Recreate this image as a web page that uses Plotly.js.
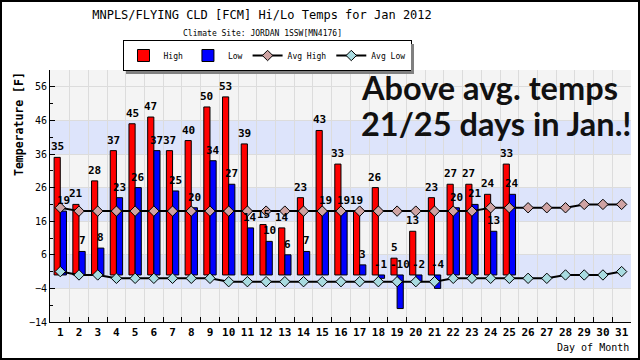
<!DOCTYPE html>
<html>
<head>
<meta charset="utf-8">
<script src="https://cdn.plot.ly/plotly-3.0.1.min.js"></script>
<style>
html,body{margin:0;padding:0;background:#fff;}
#wrap{position:relative;width:640px;height:360px;}
#chart{width:640px;height:360px;}
#frame{position:absolute;left:0;top:0;width:640px;height:360px;box-sizing:border-box;border:2px solid #000;pointer-events:none;}
.shadow{position:absolute;background:#808080;pointer-events:none;}
</style>
</head>
<body>
<div id="wrap"><div id="chart"></div><div id="frame"></div></div>
<script>
// ---- data ----
const days = [1,2,3,4,5,6,7,8,9,10,11,12,13,14,15,16,17,18,19,20,21,22,23,24,25,26,27,28,29,30,31];
const dayLabels = ["1","2","3","4","5","6","7","8","9","10","11","12","13","14","15","16","17","18","19","20","21","22","23","24","25","26","27","28","29","30","31"];
const highs = [35,21,28,37,45,47,37,40,50,53,39,15,14,23,43,33,19,26,5,13,23,27,27,24,33,null,null,null,null,null,null];
const lows  = [19,7,8,23,26,37,25,20,34,27,14,10,6,7,19,19,3,-1,-10,-2,-4,20,21,13,24,null,null,null,null,null,null];
const avgHigh = [20,19,19,19,19,19,19,19,19,19,19,19,19,19,19,19,19,19,19,19,19,19,19,20,20,20,20,20,21,21,21];
const avgLow  = [1,0,0,-1,-1,-1,-1,-1,-1,-2,-2,-2,-2,-2,-2,-2,-2,-2,-2,-2,-2,-1,-1,-1,-1,-1,-1,0,0,0,1];
const yTicks = [-14,-4,6,16,26,36,46,56];
const minorX = [1.5,2.5,3.5,4.5,5.5,6.5,7.5,8.5,9.5,10.5,11.5,12.5,13.5,14.5,15.5,16.5,17.5,18.5,19.5,20.5,21.5,22.5,23.5,24.5,25.5,26.5,27.5,28.5,29.5,30.5];
const bands = [[-4,6],[16,26],[36,46]];
const noteLines = ['Above avg. temps', '21/25 days in Jan.!'];

const mono = 'DejaVu Sans Mono, monospace';

const traces = [
  {type:'bar', name:'High', x:days, y:highs, marker:{color:'#ff0000', line:{color:'#000', width:1}}, hoverinfo:'skip'},
  {type:'bar', name:'Low', x:days, y:lows, marker:{color:'#0000ff', line:{color:'#000', width:1}}, hoverinfo:'skip'},
  {type:'scatter', mode:'lines+markers', name:'Avg High', x:days, y:avgHigh, line:{color:'#000', width:2},
   marker:{symbol:'diamond', size:8, color:'#cfa3a3', line:{color:'#000', width:1}}, hoverinfo:'skip'},
  {type:'scatter', mode:'lines+markers', name:'Avg Low', x:days, y:avgLow, line:{color:'#000', width:2},
   marker:{symbol:'diamond', size:8, color:'#a9dbe0', line:{color:'#000', width:1}}, hoverinfo:'skip'}
];

const annotations = [];
function addLabels(vals, shift){
  for(let i=0;i<days.length;i++){
    const v = vals[i];
    if(v===null) continue;
    annotations.push({x:days[i], y:Math.max(v,0), xref:'x', yref:'y', text:String(v), showarrow:false,
      xanchor:'center', yanchor:'bottom', xshift:shift, yshift:2,
      font:{family:mono, size:11, weight:'bold', color:'#000'}});
  }
}
addLabels(highs, -3);
addLabels(lows, 3);

annotations.push({xref:'paper', yref:'paper', x:(262-50)/581, y:(322-33.5)/252, xanchor:'center', yanchor:'middle',
  text:'Climate Site: JORDAN 1SSW[MN4176]', showarrow:false, font:{family:mono, size:8, color:'#000'}});
annotations.push({xref:'paper', yref:'paper', x:1, y:(322-347)/252, xanchor:'right', yanchor:'middle',
  text:'Day of Month', showarrow:false, font:{family:mono, size:10, color:'#000'}});
annotations.push({xref:'paper', yref:'paper', x:(19-50)/581, y:(322-124)/252, xanchor:'center', yanchor:'middle',
  textangle:-90, text:'Temperature [F]', showarrow:false, font:{family:mono, size:11.5, weight:'bold', color:'#000'}});
const noteTops = [65.5, 101.5];
noteLines.forEach((t, i) => {
  annotations.push({xref:'paper', yref:'paper', x:(359-50)/581, y:(322-noteTops[i])/252, xanchor:'left', yanchor:'top', align:'left',
    text:t, showarrow:false, font:{family:'Lato, sans-serif', size:32.5, weight:'bold', color:'#111'}});
});

const shapes = bands.map(b => ({type:'rect', xref:'paper', yref:'y', x0:0, x1:1, y0:b[0], y1:b[1],
  fillcolor:'#dde4fb', line:{width:0}, layer:'below'}));

const layout = {
  width:640, height:360,
  margin:{l:50, r:9, t:70, b:38},
  paper_bgcolor:'#fff', plot_bgcolor:'#f4f4f4',
  title:{text:'MNPLS/FLYING CLD [FCM] Hi/Lo Temps for Jan 2012', xref:'container', yref:'container',
    x:262/640, xanchor:'center', y:1-14.5/360, yanchor:'middle', font:{family:mono, size:12, color:'#000'}},
  barmode:'group', bargap:0.34, bargroupgap:0,
  showlegend:true,
  legend:{orientation:'h', x:(267-50)/581, xanchor:'center', y:(322-40)/252, yanchor:'top',
    bgcolor:'#fff', bordercolor:'#000', borderwidth:1, font:{family:mono, size:8, color:'#000'},
    itemwidth:30, traceorder:'normal'},
  xaxis:{range:[0.45,31.5], tickmode:'array', tickvals:days, ticktext:dayLabels, showgrid:false, zeroline:false,
    ticks:'', showline:true, linecolor:'#000', linewidth:1,
    tickfont:{family:mono, size:11, weight:'bold', color:'#000'},
    minor:{tickmode:'array', tickvals:minorX, ticks:'inside', ticklen:5, tickcolor:'#000', showgrid:true, gridcolor:'#dcdcdc', gridwidth:1}},
  yaxis:{range:[-14,61], tickmode:'array', tickvals:yTicks, ticks:'inside', ticklen:5, tickcolor:'#000',
    showgrid:true, gridcolor:'#dcdcdc', zeroline:false, showline:true, linecolor:'#000', linewidth:1,
    tickfont:{family:mono, size:10, color:'#000'},
    minor:{tick0:-14, dtick:5, ticks:'inside', ticklen:3, tickcolor:'#000', showgrid:false}},
  shapes:shapes,
  annotations:annotations
};

Plotly.newPlot('chart', traces, layout, {staticPlot:true}).then(() => {
  const bg = document.querySelector('.legend .bg');
  if(!bg) return;
  const r = bg.getBoundingClientRect();
  const w = document.getElementById('wrap').getBoundingClientRect();
  const s1 = document.createElement('div'); s1.className='shadow';
  s1.style.left=(r.right-w.left)+'px'; s1.style.top=(r.top-w.top+3)+'px'; s1.style.width='3px'; s1.style.height=r.height+'px';
  const s2 = document.createElement('div'); s2.className='shadow';
  s2.style.left=(r.left-w.left+3)+'px'; s2.style.top=(r.bottom-w.top)+'px'; s2.style.width=r.width+'px'; s2.style.height='3px';
  document.getElementById('wrap').appendChild(s1); document.getElementById('wrap').appendChild(s2);
});
</script>
</body>
</html>
